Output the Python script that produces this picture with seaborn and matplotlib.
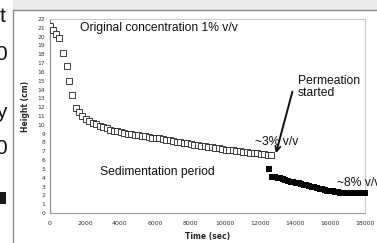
import matplotlib
matplotlib.use("Agg")
import matplotlib.pyplot as plt
from matplotlib.lines import Line2D
from matplotlib.patches import Rectangle
import seaborn as sns

# sedimentation period (open squares)
t_sed = [0, 150, 340, 530, 720, 950, 1100, 1270, 1460,
         1650, 1850, 2050, 2250, 2450, 2650, 2850, 3050, 3250, 3450,
         3650, 3850, 4050, 4250, 4450, 4650, 4850, 5050, 5250, 5450,
         5650, 5850, 6050, 6250, 6450, 6650, 6850, 7050, 7250, 7450,
         7650, 7850, 8050, 8250, 8450, 8650, 8850, 9050, 9250, 9450,
         9650, 9850, 10050, 10250, 10450, 10650, 10850, 11050, 11250, 11450,
         11650, 11850, 12050, 12250, 12450, 12600]
h_sed = [21.2, 20.8, 20.3, 19.8, 18.1, 16.7, 15.0, 13.4, 11.9,
         11.4, 11.0, 10.7, 10.45, 10.25, 10.05, 9.9, 9.75, 9.6, 9.45,
         9.35, 9.25, 9.15, 9.1, 9.0, 8.95, 8.9, 8.8, 8.75, 8.7,
         8.6, 8.55, 8.5, 8.45, 8.35, 8.3, 8.25, 8.15, 8.1, 8.05,
         7.95, 7.9, 7.8, 7.75, 7.7, 7.65, 7.55, 7.5, 7.45, 7.4,
         7.35, 7.3, 7.2, 7.15, 7.1, 7.05, 7.0, 6.95, 6.9, 6.85,
         6.8, 6.75, 6.7, 6.65, 6.6, 6.6]

# permeation period (filled squares)
t_perm = [12530, 12700, 12850, 13000, 13150, 13300, 13450, 13600, 13750, 13900,
          14050, 14200, 14350, 14500, 14650, 14800, 14950, 15100, 15250,
          15400, 15550, 15700, 15850, 16000, 16150, 16300, 16450, 16600,
          16750, 16900, 17050, 17200, 17350, 17500, 17650, 17800, 17950, 18000]
h_perm = [5.0, 4.1, 4.05, 4.0, 3.95, 3.85, 3.75, 3.65, 3.55, 3.5,
          3.45, 3.35, 3.3, 3.2, 3.15, 3.05, 3.0, 2.9, 2.85,
          2.75, 2.7, 2.6, 2.55, 2.5, 2.45, 2.4, 2.35, 2.3,
          2.3, 2.3, 2.3, 2.3, 2.3, 2.3, 2.3, 2.3, 2.3, 2.3]

x_ticks = list(range(0, 18001, 2000))
y_ticks = list(range(0, 23))

sns.set_style("white")
plt.rcParams["font.family"] = ["Liberation Sans", "DejaVu Sans"]

W, H = 377, 243
fig = plt.figure(figsize=(W / 100, H / 100), dpi=100)
fig.patch.set_facecolor("white")


def fx(px):
    return px / W


def fy(py):
    return 1 - py / H


# slide background pieces around the chart
fig.add_artist(Rectangle((fx(13), fy(10)), 1 - fx(13), 10 / H, transform=fig.transFigure,
                         facecolor="#ebebeb", edgecolor="none"))
fig.add_artist(Line2D([fx(13), 1], [fy(10), fy(10)], transform=fig.transFigure,
                      color="#8c8c80", lw=1))
fig.add_artist(Line2D([fx(13), fx(13)], [fy(10), 0], transform=fig.transFigure,
                      color="#8c8c80", lw=1))
for s, yy, xx in [("t", 16, 0), ("0", 55, -5), ("y", 112, -4), ("0", 148, -5)]:
    fig.text(fx(xx), fy(yy), s, fontsize=15, va="center", ha="left", color="#111")
fig.add_artist(Rectangle((0, fy(204)), fx(6), 12 / H, transform=fig.transFigure,
                         facecolor="#1a1a1a", edgecolor="none"))

ax = fig.add_axes([fx(50), fy(213), fx(365) - fx(50), fy(19) - fy(213)])
ax.set_facecolor("white")

sns.scatterplot(x=t_sed, y=h_sed, marker="s", s=15, facecolor="white",
                edgecolor="#222222", linewidth=0.6, ax=ax, zorder=3)
sns.scatterplot(x=t_perm, y=h_perm, marker="s", s=24, color="black",
                linewidth=0, ax=ax, zorder=3, clip_on=False)

ax.set_xlim(0, 18000)
ax.set_ylim(0, 22)
ax.set_xticks(x_ticks)
ax.set_yticks(y_ticks)
ax.set_xticklabels([str(v) for v in x_ticks], fontsize=4.5, family="DejaVu Sans", color="#333")
ax.set_yticklabels([str(v) for v in y_ticks], fontsize=4.3, family="DejaVu Sans", color="#333")
ax.tick_params(axis="both", length=2, width=0.5, color="#888", pad=1.5)
ax.tick_params(axis="x", pad=4)

for side in ["top", "right"]:
    ax.spines[side].set_color("#c8c8c8")
    ax.spines[side].set_linewidth(0.8)
ax.spines["left"].set_color("#8a8a8a")
ax.spines["left"].set_linewidth(0.8)
ax.spines["bottom"].set_color("#9a9a9a")
ax.spines["bottom"].set_linewidth(0.8)
ax.spines["bottom"].set_linestyle((0, (1, 1)))

ax.set_xlabel("Time (sec)", fontsize=5.5, fontweight="bold", family="DejaVu Sans", labelpad=4)
ax.set_ylabel("Height (cm)", fontsize=5.5, fontweight="bold", family="DejaVu Sans")
ax.yaxis.set_label_coords(-0.063, 0.55)

ax.text(1700, 21.0, "Original concentration 1% v/v", fontsize=8.7, va="center", color="#111")
ax.text(2850, 4.65, "Sedimentation period", fontsize=8.7, va="center", color="#111")
ax.text(11700, 8.05, "~3% v/v", fontsize=8.7, va="center", color="#111")
ax.text(14150, 14.3, "Permeation\nstarted", fontsize=8.7, va="center", color="#111",
        linespacing=1.0)
ax.text(16420, 3.4, "~8% v/v", fontsize=8.7, va="center", color="#111", clip_on=False)
ax.annotate("", xy=(12910, 6.77), xytext=(13850, 13.75),
            arrowprops=dict(arrowstyle="->", lw=1.4, color="#111",
                            mutation_scale=9, shrinkA=0, shrinkB=0))

fig.savefig("out.png", dpi=100)
